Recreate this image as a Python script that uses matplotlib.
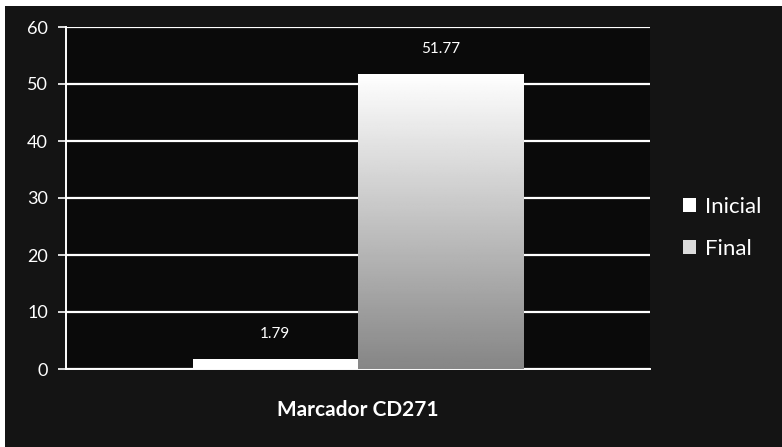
import numpy as np
import matplotlib
matplotlib.use("Agg")
from matplotlib import pyplot as plt
from matplotlib.patches import Patch

plt.rcParams['font.family'] = ['Lato', 'DejaVu Sans']

# datos
categoria = 'Marcador CD271'
series = ['Inicial', 'Final']
valores = [1.79, 51.77]
etiquetas = ['1.79', '51.77']
yticks = [0, 10, 20, 30, 40, 50, 60]

fig = plt.figure(figsize=(7.82, 4.47), dpi=100)
fig.patch.set_facecolor('white')
# fondo oscuro del escaneo (deja un borde blanco arriba y a la izquierda)
bg = fig.add_axes([5/782, 0, 1, 1 - 6/447])
bg.set_facecolor('#141414')
bg.set_xticks([]), bg.set_yticks([])
for s in bg.spines.values():
    s.set_visible(False)

ax = fig.add_axes([66/782, 78/447, 584/782, 342/447])
ax.set_facecolor('#0a0a0a')

ancho = 0.283
pos = [-ancho/2, ancho/2]
barras = ax.bar(pos, valores, width=ancho, color=['white', '#d8d8d8'],
                edgecolor='none', zorder=3)

# degradado de la barra Final (blanco arriba, gris abajo)
b = barras[1]
grad = np.linspace(1.0, 0.0, 256).reshape(-1, 1)
im = ax.imshow(grad, cmap='gray', vmin=-1.1, vmax=1.0, aspect='auto',
               extent=[b.get_x(), b.get_x() + b.get_width(), 0, b.get_height()],
               zorder=4)
im.set_clip_path(b)

for p, v, t in zip(pos, valores, etiquetas):
    ax.annotate(t, (p, v), xytext=(0, 13), textcoords='offset points',
                ha='center', va='bottom', color='white', fontsize=11, zorder=5)

ax.set_xlim(-0.5, 0.5)
ax.set_ylim(0, 60)
ax.set_yticks(yticks)
ax.set_xticks([])
ax.yaxis.grid(True, color='white', linewidth=1.6, zorder=1)
ax.tick_params(axis='y', colors='white', labelsize=13, length=6, width=1.2, pad=7)
for lab in ax.get_yticklabels():
    lab.set_color('white')
for k in ['top', 'right']:
    ax.spines[k].set_visible(False)
for k in ['left', 'bottom']:
    ax.spines[k].set_color('white')
    ax.spines[k].set_linewidth(1.4)

ax.set_xlabel(categoria, color='white', fontsize=15, fontweight='bold', labelpad=22)

handles = [Patch(facecolor='white', edgecolor='none'),
           Patch(facecolor='#dcdcdc', edgecolor='none')]
leg = fig.legend(handles, series, loc='center left', bbox_to_anchor=(0.848, 0.49),
                 frameon=False, fontsize=16, labelcolor='white', labelspacing=1.0,
                 handlelength=0.6, handleheight=0.6, handletextpad=0.4)

fig.savefig('out.png', dpi=100, facecolor=fig.get_facecolor())
